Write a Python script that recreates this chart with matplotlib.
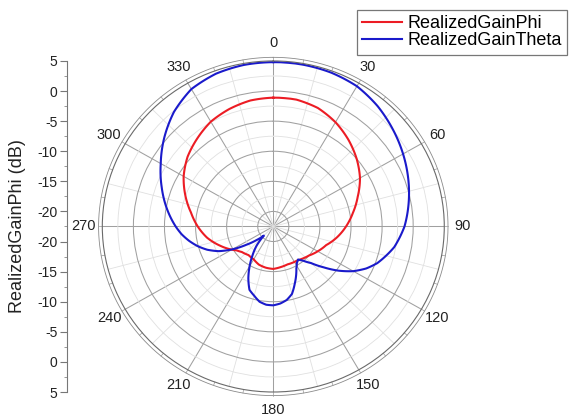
import numpy as np
import matplotlib
matplotlib.use("Agg")
import matplotlib.pyplot as plt

plt.rcParams['font.family'] = ['Liberation Sans', 'DejaVu Sans']

# angles in degrees, gains in dB
phi_angle = [0, 10, 20, 30, 40, 50, 60, 70, 80, 90, 100, 110, 120, 130, 140, 146,
             150, 160, 170, 180, 190, 200, 210, 220, 230, 236, 240, 250, 260, 270,
             280, 290, 300, 310, 320, 330, 340, 350, 360]
phi_gain = [-1.1, -1.1, -1.55, -2.5, -3.7, -5.0, -6.4, -8.05, -9.5, -10.8, -12.1, -13.45,
            -14.25, -15.0, -15.45, -15.67, -15.7, -15.8, -15.65, -15.45, -15.55, -15.75,
            -16.2, -16.3, -15.9, -15.4, -14.8, -13.3, -11.7, -10.35, -9.05, -7.45, -5.85,
            -4.5, -3.45, -2.4, -1.75, -1.25, -1.1]

theta_angle = [0, 10, 20, 30, 40, 50, 60, 70, 80, 90, 100, 110, 115, 120, 125, 130, 135,
               140, 144, 148, 152, 156, 160, 165, 170, 175, 180, 185, 190, 195, 200, 205,
               210, 215, 220, 225, 230, 235, 240, 245, 250, 255, 260, 265, 270, 280, 290,
               300, 310, 320, 330, 340, 350, 360]
theta_gain = [4.8, 4.8, 4.7, 4.4, 3.6, 2.6, 1.6, 0.6, -0.4, -1.4, -2.75, -4.7, -6.0, -7.65,
              -9.7, -11.95, -13.9, -15.1, -15.72, -15.35, -14.6, -13.5, -12.4, -10.9, -10.1,
              -9.65, -9.4, -9.45, -9.8, -10.6, -11.3, -13.0, -14.9, -16.7, -18.3, -20.35,
              -19.0, -17.2, -14.9, -12.8, -11.2, -9.9, -8.75, -7.7, -6.8, -5.1, -3.4, -1.6,
              0.4, 2.35, 3.85, 4.5, 4.75, 4.8]

r_min, r_max = -22.5, 5
r_ticks = [5, 0, -5, -10, -15, -20]
angle_labels = [0, 30, 60, 90, 120, 150, 180, 210, 240, 270, 300, 330]

fig = plt.figure(figsize=(5.69, 4.18), dpi=100)
ax = fig.add_axes([0.1798, 0.0622, 0.601, 0.792], projection='polar')
ax.set_aspect('auto')
ax.set_theta_zero_location('N')
ax.set_theta_direction(-1)
ax.set_rlim(r_min, r_max)

# grid
ax.set_xticks(np.radians(np.arange(0, 360, 30)))
ax.set_xticks(np.radians(np.arange(15, 360, 30)), minor=True)
ax.set_yticks([-20, -15, -10, -5, 0])
ax.set_yticks([-17.5, -12.5, -7.5, -2.5, 2.5], minor=True)
ax.set_xticklabels([])
ax.set_yticklabels([])
ax.tick_params(which='both', length=0)
ax.grid(which='major', color='#a0a0a0', lw=0.75)
ax.grid(which='minor', color='#e0e0e0', lw=0.6)
ax.spines['polar'].set_color('#6a6a6a')
ax.spines['polar'].set_linewidth(0.8)

# outer ring like the original
ring = np.linspace(0, 2 * np.pi, 400)
ax.plot(ring, np.full_like(ring, 5.6), color='#8a8a8a', lw=0.6, clip_on=False)
for a in np.radians(np.arange(0, 360, 10)):
    ax.plot([a, a], [5, 5.6], color='#999999', lw=0.5, clip_on=False)

l1, = ax.plot(np.radians(phi_angle), phi_gain, color='#ec1c24', lw=1.5,
              label='RealizedGainPhi')
l2, = ax.plot(np.radians(theta_angle), theta_gain, color='#1a1acb', lw=1.5,
              label='RealizedGainTheta')
# draw segments along the polar grid instead of straight chords
for ln in (l1, l2):
    ln.get_path()._interpolation_steps = 30

for a in angle_labels:
    ax.text(np.radians(a), 8.0, str(a), ha='center', va='center', fontsize=10.5,
            color='#222222', clip_on=False)

# vertical radial scale on the left
axl = fig.add_axes([67 / 569, 0.0622, 0.0001, 0.792])
axl.set_ylim(-(r_max - r_min), r_max - r_min)
for s in ['top', 'right', 'bottom']:
    axl.spines[s].set_visible(False)
axl.spines['left'].set_color('#777777')
axl.spines['left'].set_linewidth(0.8)
axl.set_xticks([])
pos = [r - r_min for r in r_ticks] + [-(r - r_min) for r in r_ticks]
axl.set_yticks(pos)
axl.set_yticklabels([str(r) for r in r_ticks] * 2)
axl.set_yticks(np.arange(-(r_max - r_min), r_max - r_min + 0.1, 2.5), minor=True)
axl.tick_params(axis='y', which='major', length=5, width=0.8, color='#777777',
                labelsize=10, labelcolor='#222222', pad=2)
axl.tick_params(axis='y', which='minor', length=2.5, width=0.6, color='#888888')
axl.patch.set_visible(False)

fig.text(18 / 569, 0.458, 'RealizedGainPhi (dB)', rotation=90, ha='center',
         va='center', fontsize=13, color='#222222')

leg = fig.legend(handles=[l1, l2], loc='upper right',
                 bbox_to_anchor=(567 / 569, 1 - 10 / 418), fontsize=13,
                 frameon=True, fancybox=False, edgecolor='#555555',
                 handlelength=2.2, handletextpad=0.3, borderpad=0.3,
                 labelspacing=0.0, borderaxespad=0)
leg.get_frame().set_linewidth(0.9)

fig.savefig('out.png', dpi=100)
